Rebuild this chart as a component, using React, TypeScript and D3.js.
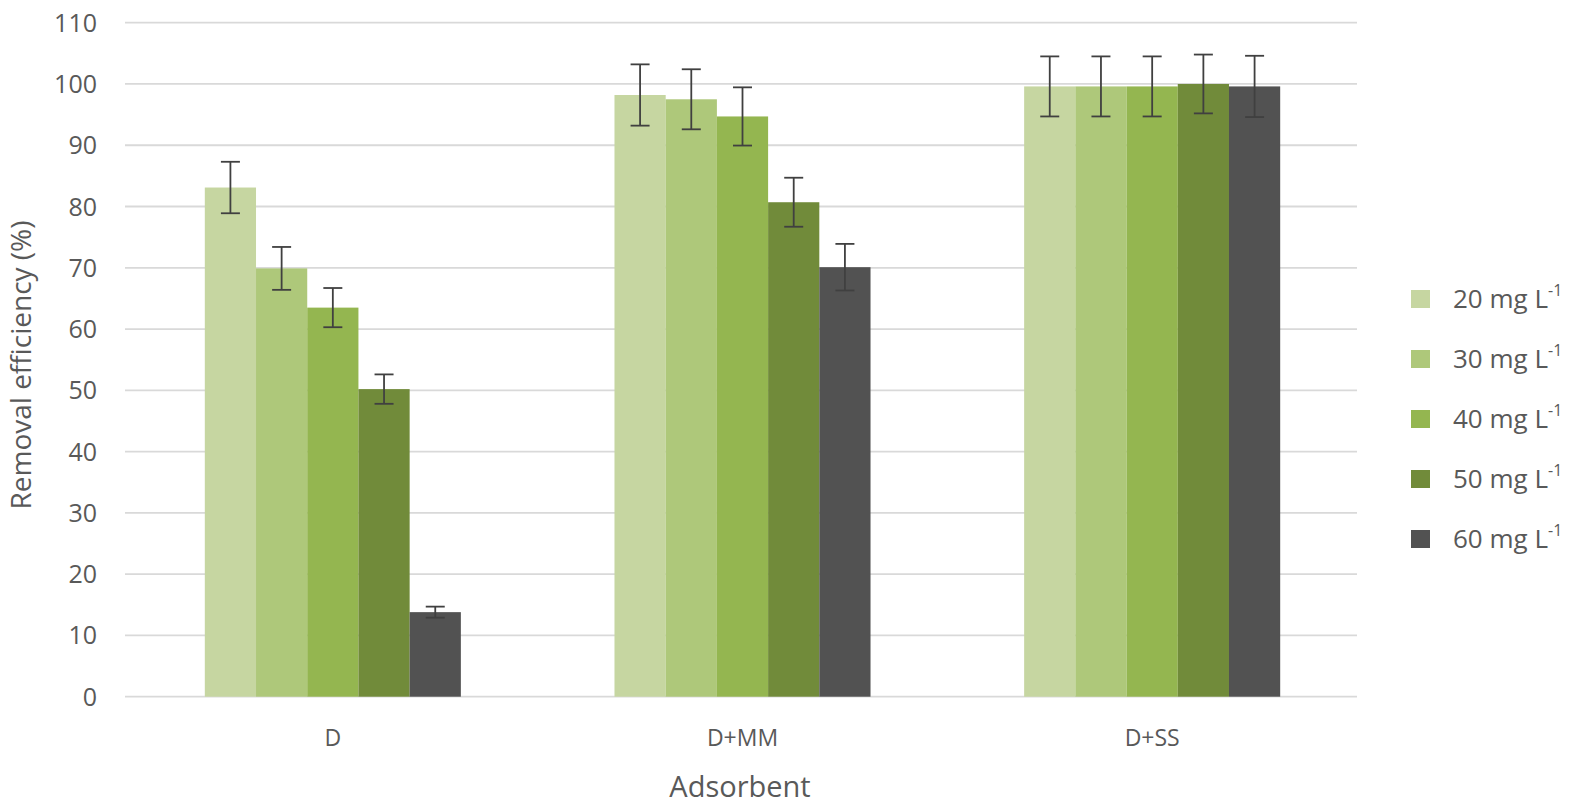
import React from 'react';
import * as d3 from 'd3';

// adsorbents on the x axis
const categories = ['D', 'D+MM', 'D+SS'];
// initial concentrations (mg L-1), one bar each per adsorbent
const concentrations = ['20', '30', '40', '50', '60'];

// removal efficiency (%) per adsorbent, in concentration order
const valuesD = [83.1, 69.9, 63.5, 50.2, 13.8];
const valuesDMM = [98.2, 97.5, 94.7, 80.7, 70.1];
const valuesDSS = [99.6, 99.6, 99.6, 100.0, 99.6];

// error bar half-lengths
const errD = [4.2, 3.5, 3.2, 2.4, 0.9];
const errDMM = [5.0, 4.9, 4.75, 4.0, 3.8];
const errDSS = [4.9, 4.9, 4.9, 4.8, 5.0];

const yTicks = d3.range(0, 111, 10);

const colors = ['#c6d6a1', '#aec87a', '#94b650', '#718b3a', '#525252'];

const W = 1583;
const H = 808;
const textColor = '#595959';
const font = '"Open Sans", sans-serif';

const App = () => {
  const rows = [
    { cat: categories[0], vals: valuesD, errs: errD },
    { cat: categories[1], vals: valuesDMM, errs: errDMM },
    { cat: categories[2], vals: valuesDSS, errs: errDSS },
  ];

  const gridLeft = 125;
  const gridRight = 1357;

  const x0 = d3.scaleBand<string>()
    .domain(categories)
    .range([128, gridRight])
    .paddingInner(0.375)
    .paddingOuter(0.1875);

  const x1 = d3.scaleBand<string>()
    .domain(concentrations)
    .range([0, x0.bandwidth()])
    .padding(0);

  const y = d3.scaleLinear().domain([0, 110]).range([696.7, 22.7]);

  const capHalf = 9.5;

  return (
    <svg width={W} height={H} style={{ position: 'absolute', left: 0, top: 0, background: '#fff' }}
      fontFamily={font}>
      <rect width={W} height={H} fill="#fff" />

      {/* gridlines */}
      {yTicks.map(t => (
        <line key={t} x1={gridLeft} x2={gridRight} y1={y(t)} y2={y(t)}
          stroke="#d9d9d9" strokeWidth={1.8} />
      ))}

      {/* y tick labels */}
      {yTicks.map(t => (
        <text key={'l' + t} x={97} y={y(t)} dy="0.36em" textAnchor="end"
          fontSize={25} fill={textColor}>{t}</text>
      ))}

      {/* bars */}
      {rows.map(r => (
        <g key={r.cat} transform={`translate(${x0(r.cat)},0)`}>
          {concentrations.map((c, i) => (
            <rect key={c} x={x1(c)} y={y(r.vals[i])} width={x1.bandwidth()}
              height={y(0) - y(r.vals[i])} fill={colors[i]} />
          ))}
        </g>
      ))}

      {/* error bars */}
      {rows.map(r => (
        <g key={'e' + r.cat} transform={`translate(${x0(r.cat)},0)`}
          stroke="#404040" strokeWidth={1.8}>
          {concentrations.map((c, i) => {
            const cx = (x1(c) as number) + x1.bandwidth() / 2;
            const top = y(r.vals[i] + r.errs[i]);
            const bot = y(r.vals[i] - r.errs[i]);
            return (
              <g key={c}>
                <line x1={cx} x2={cx} y1={top} y2={bot} />
                <line x1={cx - capHalf} x2={cx + capHalf} y1={top} y2={top} />
                <line x1={cx - capHalf} x2={cx + capHalf} y1={bot} y2={bot} />
              </g>
            );
          })}
        </g>
      ))}

      {/* category labels */}
      {categories.map(c => (
        <text key={c} x={(x0(c) as number) + x0.bandwidth() / 2} y={746}
          textAnchor="middle" fontSize={23} fill={textColor}>{c}</text>
      ))}

      {/* axis titles */}
      <text x={740} y={797} textAnchor="middle" fontSize={29} fill={textColor}>Adsorbent</text>
      <text transform={`translate(31,${365}) rotate(-90)`} textAnchor="middle"
        fontSize={28} fill={textColor}>Removal efficiency (%)</text>

      {/* legend */}
      {concentrations.map((c, i) => {
        const cy = 299 + i * 60;
        return (
          <g key={'lg' + c}>
            <rect x={1411} y={cy - 9} width={19} height={18} fill={colors[i]} />
            <text x={1453} y={cy} dy="0.36em" fontSize={26} fill={textColor}>
              {c} mg L<tspan fontSize={16} dy="-0.75em">-1</tspan>
            </text>
          </g>
        );
      })}
    </svg>
  );
};

export default App;
